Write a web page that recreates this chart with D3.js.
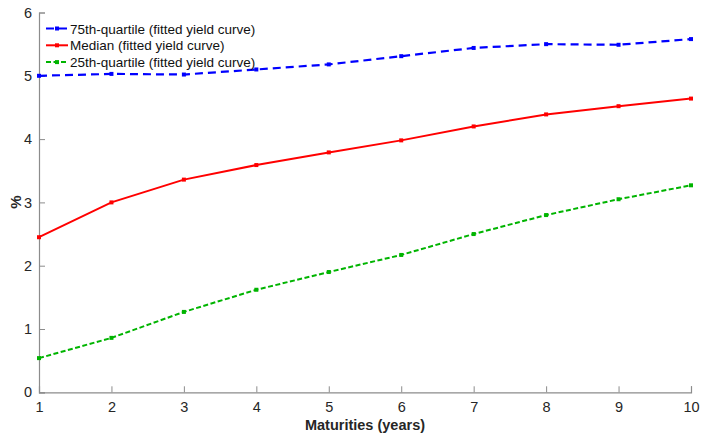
<!DOCTYPE html>
<html><head><meta charset="utf-8">
<script src="https://cdn.jsdelivr.net/npm/d3@7"></script>
<style>body{margin:0;background:#fff}svg{display:block;font-family:"Liberation Sans",Arial,sans-serif}</style>
</head><body><svg id="c" width="702" height="439"></svg>
<script>
const maturities = [1,2,3,4,5,6,7,8,9,10];
const q75 = [5.00,5.03,5.02,5.10,5.18,5.31,5.44,5.50,5.49,5.58];
const median = [2.45,3.00,3.36,3.59,3.79,3.98,4.20,4.39,4.52,4.64];
const q25 = [0.54,0.86,1.27,1.62,1.90,2.17,2.50,2.80,3.05,3.27];
const yTicks = [0,1,2,3,4,5,6];
const seriesNames = ["75th-quartile (fitted yield curve)","Median (fitted yield curve)","25th-quartile (fitted yield curve)"];

const svg = d3.select("#c");
const x = d3.scaleLinear().domain([1,10]).range([39,691]);
const y = d3.scaleLinear().domain([0,6]).range([392.3,12.5]);
const axisColor = "#8c8c8c";

const xa = svg.append("g").attr("transform",`translate(0,${y(0)})`)
  .call(d3.axisBottom(x).tickValues(maturities).tickSize(-6).tickPadding(9).tickFormat(d3.format("d")));
const ya = svg.append("g").attr("transform",`translate(${x(1)},0)`)
  .call(d3.axisLeft(y).tickValues(yTicks).tickSize(-6).tickPadding(7).tickFormat(d3.format("d")));
[xa,ya].forEach(a=>{
  a.select(".domain").attr("stroke",axisColor).attr("stroke-width",1.2);
  a.selectAll(".tick line").attr("stroke",axisColor);
  a.selectAll(".tick text").attr("fill","#262626").attr("font-size",14.5).attr("font-family","Liberation Sans, Arial, sans-serif");
});

const series = [
  {name:seriesNames[0], vals:q75, color:"#0000ff", dash:"8,5", w:2.2},
  {name:seriesNames[1], vals:median, color:"#ff0000", dash:null, w:2},
  {name:seriesNames[2], vals:q25, color:"#00b400", dash:"5,2.5", w:2}
];
const line = d3.line().x((d,i)=>x(maturities[i])).y(d=>y(d));
series.forEach(s=>{
  svg.append("path").datum(s.vals).attr("d",line).attr("fill","none")
    .attr("stroke",s.color).attr("stroke-width",s.w).attr("stroke-dasharray",s.dash);
  svg.selectAll(null).data(s.vals).enter().append("rect")
    .attr("x",(d,i)=>x(maturities[i])-2).attr("y",d=>y(d)-2)
    .attr("width",4).attr("height",4).attr("fill",s.color);
});

// legend
const lg = svg.append("g");
series.forEach((s,i)=>{
  const yy = 28.5 + i*16.8;
  lg.append("line").attr("x1",46).attr("x2",68).attr("y1",yy).attr("y2",yy)
    .attr("stroke",s.color).attr("stroke-width",s.w).attr("stroke-dasharray",s.dash);
  lg.append("rect").attr("x",55).attr("y",yy-2).attr("width",4).attr("height",4).attr("fill",s.color);
  lg.append("text").attr("x",70).attr("y",yy+5).attr("font-size",13.5).attr("fill","#111").text(s.name);
});

svg.append("text").attr("x",365).attr("y",430).attr("text-anchor","middle")
  .attr("font-size",14.5).attr("font-weight","bold").attr("fill","#262626").text("Maturities (years)");
svg.append("text").attr("transform","translate(21,202) rotate(-90)").attr("text-anchor","middle")
  .attr("font-size",15).attr("font-weight","bold").attr("fill","#262626").text("%");
</script></body></html>
